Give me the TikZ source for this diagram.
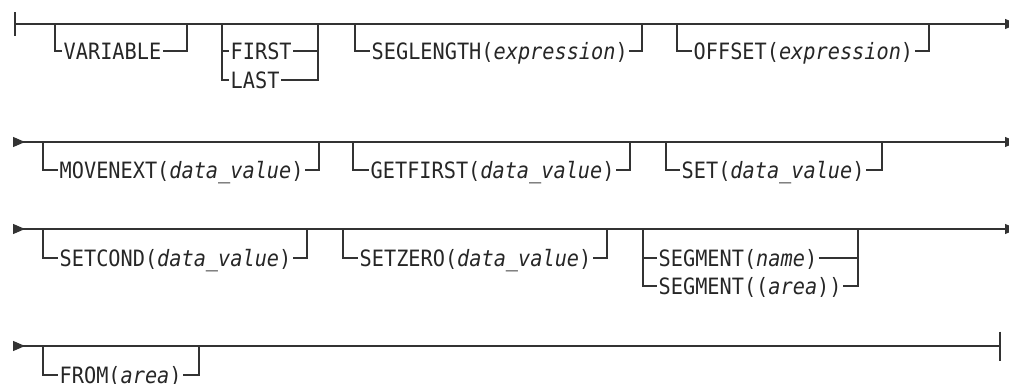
\documentclass[tikz,border=0pt]{standalone}
\usepackage{fontspec}
\newfontfamily\railfont[FakeStretch=0.9,ItalicFont={DejaVu Sans Mono Oblique}]{DejaVu Sans Mono}
\usetikzlibrary{arrows.meta}

\begin{document}
\begin{tikzpicture}[x=1pt,y=-1pt,
		rail/.style={line width=1.2pt,draw=black!80},
		kw/.style={anchor=west,inner sep=1.5pt,text height=16.3pt,text depth=0pt,text=black!85,font=\railfont\fontsize{22.5}{25}\selectfont},
		startmark/.style={{Triangle[reversed,length=12pt,width=10pt]}-},
		endmark/.style={-{Triangle[length=12pt,width=10pt]}},
		bothmarks/.style={{Triangle[reversed,length=12pt,width=10pt]}-{Triangle[length=12pt,width=10pt]}}]
	
	\useasboundingbox (0,0) rectangle (1009,383);
	
	% first line
	\coordinate (S1) at (15,24);
	\coordinate (E1) at (1017,24);
	\draw[rail] ([yshift=12pt]S1) -- ([yshift=-12pt]S1);
	\draw[rail,endmark] (S1) -- (E1);
	
	\coordinate (VarIn) at (55,24);
	\coordinate (VarOut) at (187,24);
	\node[kw] (Variable) at (62,51) {VARIABLE};
	\draw[rail] (VarIn) |- (Variable.west);
	\draw[rail] (Variable.east) -| (VarOut);
	
	\coordinate (PosIn) at (222,24);
	\coordinate (PosOut) at (318,24);
	\node[kw] (First) at (229,51) {FIRST};
	\node[kw] (Last) at (229,80) {LAST};
	\draw[rail] (PosIn) |- (Last.west);
	\draw[rail] (PosIn |- First.west) -- (First.west);
	\draw[rail] (First.east) -- (PosOut |- First.east);
	\draw[rail] (Last.east) -| (PosOut);
	
	\coordinate (SegIn) at (355,24);
	\coordinate (SegOut) at (642,24);
	\node[kw] (SegLength) at (370,51) {SEGLENGTH(\textit{expression})};
	\draw[rail] (SegIn) |- (SegLength.west);
	\draw[rail] (SegLength.east) -| (SegOut);
	
	\coordinate (OffIn) at (677,24);
	\coordinate (OffOut) at (929,24);
	\node[kw] (Offset) at (692,51) {OFFSET(\textit{expression})};
	\draw[rail] (OffIn) |- (Offset.west);
	\draw[rail] (Offset.east) -| (OffOut);
	
	% second line
	\coordinate (S2) at (13,142);
	\coordinate (E2) at (1017,142);
	\draw[rail,bothmarks] (S2) -- (E2);
	
	\coordinate (MovIn) at (43,142);
	\coordinate (MovOut) at (319,142);
	\node[kw] (MoveNext) at (58,170) {MOVENEXT(\textit{data\_value})};
	\draw[rail] (MovIn) |- (MoveNext.west);
	\draw[rail] (MoveNext.east) -| (MovOut);
	
	\coordinate (GetIn) at (353,142);
	\coordinate (GetOut) at (630,142);
	\node[kw] (GetFirst) at (369,170) {GETFIRST(\textit{data\_value})};
	\draw[rail] (GetIn) |- (GetFirst.west);
	\draw[rail] (GetFirst.east) -| (GetOut);
	
	\coordinate (SetIn) at (666,142);
	\coordinate (SetOut) at (882,142);
	\node[kw] (Set) at (680,170) {SET(\textit{data\_value})};
	\draw[rail] (SetIn) |- (Set.west);
	\draw[rail] (Set.east) -| (SetOut);
	
	% third line
	\coordinate (S3) at (13,229);
	\coordinate (E3) at (1017,229);
	\draw[rail,bothmarks] (S3) -- (E3);
	
	\coordinate (CondIn) at (43,229);
	\coordinate (CondOut) at (307,229);
	\node[kw] (SetCond) at (58,258) {SETCOND(\textit{data\_value})};
	\draw[rail] (CondIn) |- (SetCond.west);
	\draw[rail] (SetCond.east) -| (CondOut);
	
	\coordinate (ZeroIn) at (343,229);
	\coordinate (ZeroOut) at (607,229);
	\node[kw] (SetZero) at (358,258) {SETZERO(\textit{data\_value})};
	\draw[rail] (ZeroIn) |- (SetZero.west);
	\draw[rail] (SetZero.east) -| (ZeroOut);
	
	\coordinate (SgmIn) at (643,229);
	\coordinate (SgmOut) at (858,229);
	\node[kw] (SegName) at (657,258) {SEGMENT(\textit{name})};
	\node[kw] (SegArea) at (657,286) {SEGMENT((\textit{area}))};
	\draw[rail] (SgmIn) |- (SegArea.west);
	\draw[rail] (SgmIn |- SegName.west) -- (SegName.west);
	\draw[rail] (SegName.east) -- (SgmOut |- SegName.east);
	\draw[rail] (SegArea.east) -| (SgmOut);
	
	% last line
	\coordinate (S4) at (13,346);
	\coordinate (E4) at (1000,346);
	\draw[rail,startmark] (S4) -- (E4);
	\draw[rail] ([yshift=14.5pt]E4) -- ([yshift=-14.5pt]E4);
	
	\coordinate (FromIn) at (43,346);
	\coordinate (FromOut) at (199,346);
	\node[kw] (From) at (58,375) {FROM(\textit{area})};
	\draw[rail] (FromIn) |- (From.west);
	\draw[rail] (From.east) -| (FromOut);
	
\end{tikzpicture}
\end{document}
